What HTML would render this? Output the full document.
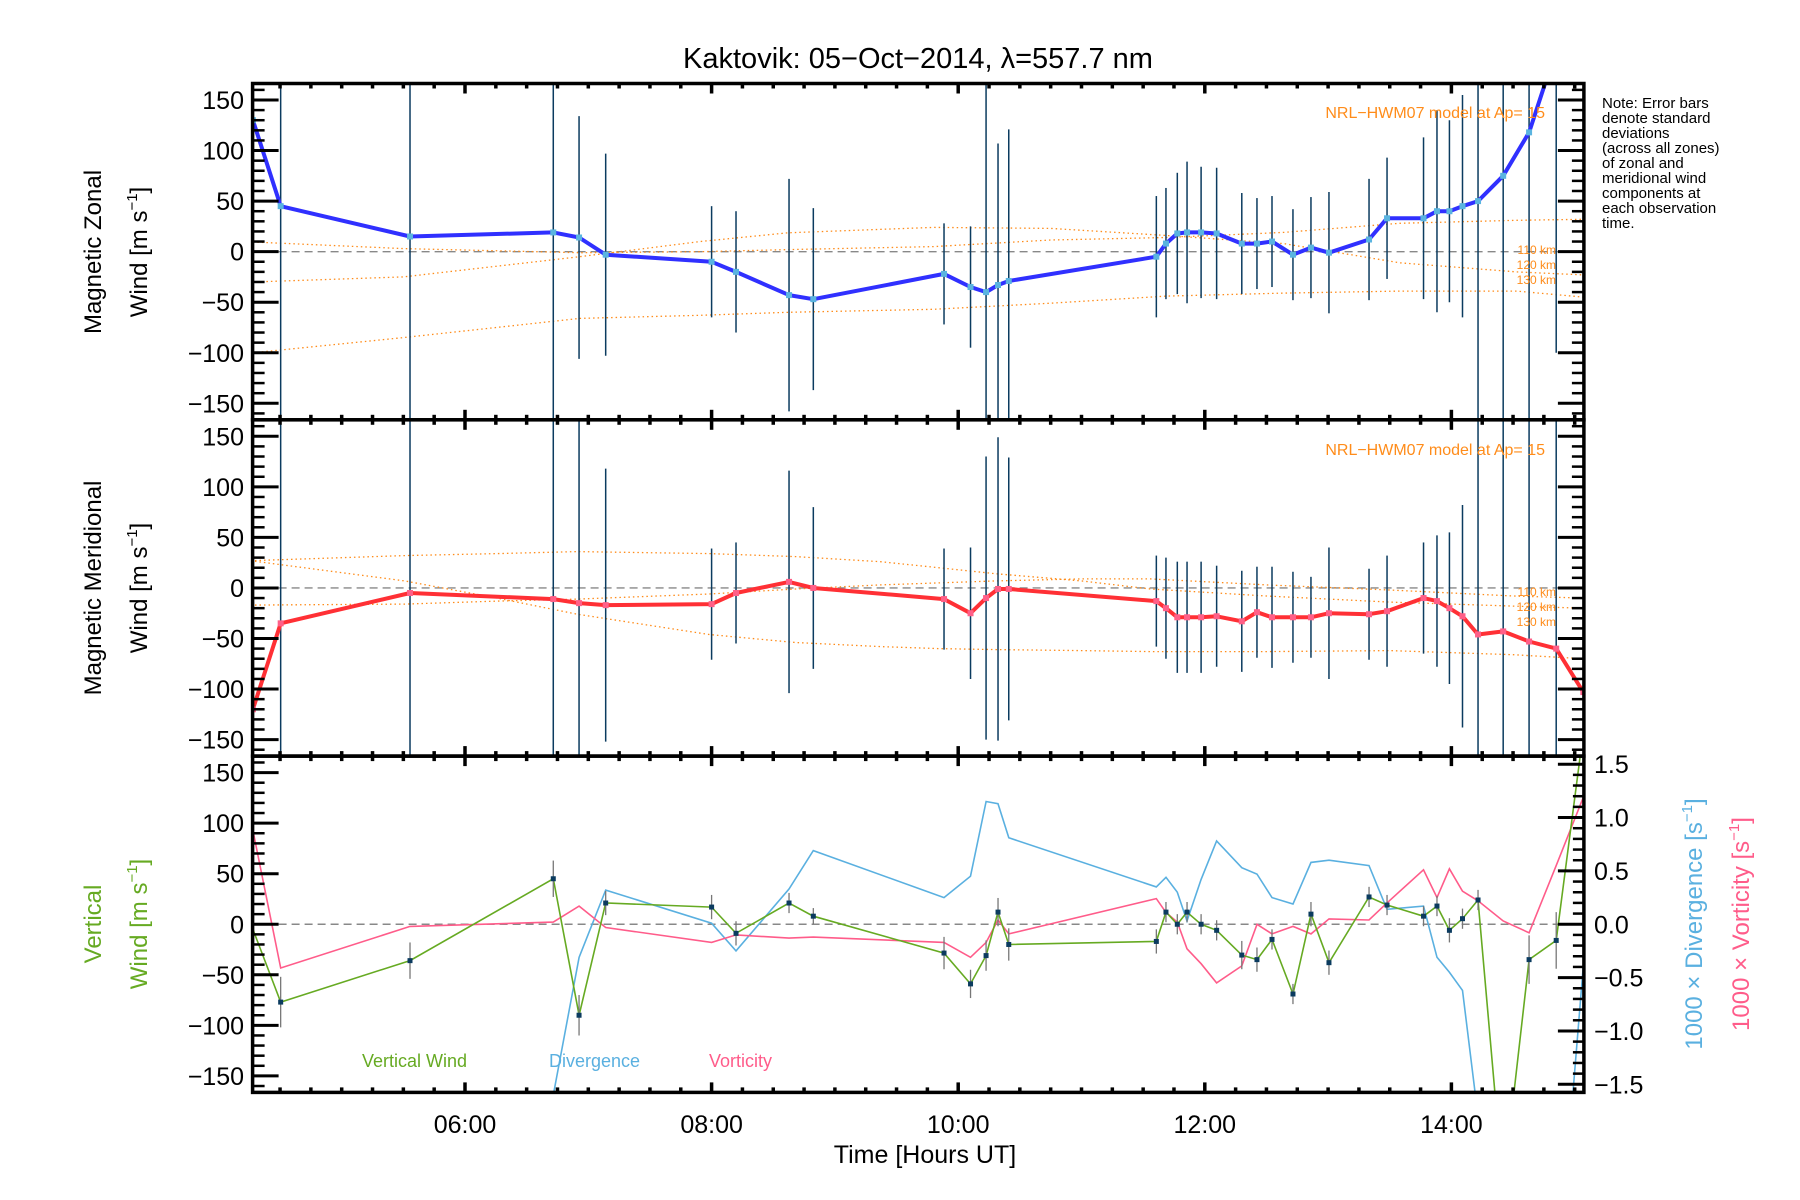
<!DOCTYPE html>
<html><head><meta charset="utf-8"><style>
html,body{margin:0;padding:0;background:#fff;overflow:hidden;width:1800px;height:1200px;}
svg{display:block;font-family:"Liberation Sans",sans-serif;}
</style></head><body>
<svg id="chart" width="1800" height="1200" viewBox="0 0 1800 1200" xmlns="http://www.w3.org/2000/svg">
<defs>
<clipPath id="c1"><rect x="252.6" y="83.5" width="1331.3" height="336.3"/></clipPath>
<clipPath id="c2"><rect x="252.6" y="419.8" width="1331.3" height="336.3"/></clipPath>
<clipPath id="c3"><rect x="252.6" y="756.1" width="1331.3" height="336.3"/></clipPath>
</defs>
<text x="918" y="68" font-size="29" text-anchor="middle">Kaktovik: 05−Oct−2014, λ=557.7 nm</text>
<g id="grid"></g>
<g id="marks"></g>
<g id="axes"></g>
<text transform="translate(101,252) rotate(-90)" font-size="24" text-anchor="middle">Magnetic Zonal</text>
<text transform="translate(147,252) rotate(-90)" font-size="24" text-anchor="middle">Wind [m s<tspan font-size="15" dy="-10">−1</tspan><tspan dy="10">]</tspan></text>
<text transform="translate(101,588) rotate(-90)" font-size="24" text-anchor="middle">Magnetic Meridional</text>
<text transform="translate(147,588) rotate(-90)" font-size="24" text-anchor="middle">Wind [m s<tspan font-size="15" dy="-10">−1</tspan><tspan dy="10">]</tspan></text>
<text transform="translate(101,924) rotate(-90)" font-size="24" fill="#66aa22" text-anchor="middle">Vertical</text>
<text transform="translate(147,924) rotate(-90)" font-size="24" fill="#66aa22" text-anchor="middle">Wind [m s<tspan font-size="15" dy="-10">−1</tspan><tspan dy="10">]</tspan></text>
<text transform="translate(1702,924) rotate(-90)" font-size="24" fill="#5ab0e0" text-anchor="middle">1000 × Divergence [s<tspan font-size="15" dy="-10">−1</tspan><tspan dy="10">]</tspan></text>
<text transform="translate(1749,924) rotate(-90)" font-size="24" fill="#ff5c8a" text-anchor="middle">1000 × Vorticity [s<tspan font-size="15" dy="-10">−1</tspan><tspan dy="10">]</tspan></text>
<text x="925" y="1163" font-size="25" text-anchor="middle">Time [Hours UT]</text>
<text x="362" y="1067" font-size="18" fill="#66aa22">Vertical Wind</text>
<text x="549" y="1067" font-size="18" fill="#5ab0e0">Divergence</text>
<text x="709" y="1067" font-size="18" fill="#ff5c8a">Vorticity</text>
<text x="1545" y="118" font-size="16" fill="#ff8c1a" text-anchor="end">NRL−HWM07 model at Ap= 15</text>
<text x="1545" y="455" font-size="16" fill="#ff8c1a" text-anchor="end">NRL−HWM07 model at Ap= 15</text>
<g font-size="12" fill="#ff8c1a" text-anchor="end">
<text x="1556" y="254">110 km</text><text x="1556" y="269">120 km</text><text x="1556" y="284">130 km</text></g>
<g font-size="12" fill="#ff8c1a" text-anchor="end">
<text x="1556" y="596">110 km</text><text x="1556" y="611">120 km</text><text x="1556" y="626">130 km</text></g>
<g font-size="15" fill="#000">
<text x="1602" y="108">Note: Error bars</text>
<text x="1602" y="123">denote standard</text>
<text x="1602" y="138">deviations</text>
<text x="1602" y="153">(across all zones)</text>
<text x="1602" y="168">of zonal and</text>
<text x="1602" y="183">meridional wind</text>
<text x="1602" y="198">components at</text>
<text x="1602" y="213">each observation</text>
<text x="1602" y="228">time.</text>
</g>
</svg>
<script>
const times = [4.28,4.505,5.554,6.716,6.925,7.141,8.0,8.198,8.628,8.825,9.885,10.1,10.226,10.323,10.41,11.607,11.685,11.777,11.856,11.97,12.096,12.3,12.423,12.545,12.715,12.861,13.007,13.332,13.478,13.774,13.883,13.984,14.09,14.216,14.42,14.63,14.85,15.07];
const zonal = [130,45,15,19,14,-3,-10,-20,-43,-47,-22,-35,-40,-33,-29,-5,8,18,19,19,18,8,8,10,-3,4,-1,12,33,33,40,40,45,50,75,118,200,260];
const zonalErr = [0,300,300,300,120,100,55,60,115,90,50,60,300,140,150,60,55,60,70,65,65,50,45,45,45,50,60,60,60,80,100,90,110,300,300,300,300,0];
const meridional = [-120,-35,-5,-11,-15,-17,-16,-5,6,0,-11,-25,-10,-1,-1,-13,-20,-29,-29,-29,-28,-33,-24,-29,-29,-29,-25,-26,-23,-10,-13,-20,-28,-46,-43,-53,-60,-103];
const meridErr = [0,300,300,300,300,135,55,50,110,80,50,65,140,150,130,45,50,55,55,55,50,50,45,50,45,40,65,45,55,55,65,75,110,300,300,300,300,0];
const vertical = [-5,-77,-36,45,-90,21,17,-9,21,8,-28.5,-59,-31,12,-20,-17,12,0,12,0,-6,-30.5,-35,-15,-69,10,-38,27,19,8,18,-6,5.5,24,-260,-35,-16,190];
const vertErr = [0,25,18,18,20,12,12,12,10,8,16,14,15,14,16,12,10,10,10,10,10,14,12,10,10,12,12,10,10,10,10,12,10,10,0,24,28,0];
const divergence = [-3,-3,-3,-1.6,-0.31,0.32,0.01,-0.25,0.33,0.69,0.25,0.45,1.15,1.13,0.81,0.35,0.44,0.3,0.03,0.42,0.78,0.53,0.47,0.25,0.19,0.58,0.6,0.55,0.14,0.17,-0.31,-0.45,-0.62,-1.8,-3,-3,-3.5,-0.39];
const vorticity = [0.88,-0.41,-0.02,0.02,0.17,-0.03,-0.17,-0.1,-0.13,-0.12,-0.17,-0.31,-0.17,0.04,-0.09,0.24,0.11,0.02,-0.23,-0.37,-0.55,-0.39,0.0,-0.09,-0.02,-0.09,0.05,0.04,0.2,0.51,0.25,0.52,0.31,0.22,0.03,-0.08,0.55,1.19];
const zModelT = [4.28,5.5,6.93,7.91,8.62,9.8,10.75,11.69,12.64,13.58,14.53,15.07];
const zModel110 = [-30,-25,-5,10,18.6,24,23,16,8,-11,-20,-23];
const zModel120 = [9.5,3,-1,0,2,5,11.5,14,19,28,31,32];
const zModel130 = [-100,-85,-66,-63,-60,-57,-51,-44,-41,-39,-39,-45];
const mModelT = [4.26,5.51,6.26,6.91,7.98,8.68,9.37,9.84,10.31,11.0,11.56,12.5,13.5,14.5,15.07];
const mModel110 = [27,32,34,36,34,31,26,20,14,7,-1,-8,-14,-18,-20];
const mModel120 = [27,7,-10,-26,-46,-54,-58,-60,-61,-62,-63,-63,-62,-66,-70];
const mModel130 = [-17,-16,-13,-11,-6,-1,3,5,7,9,9,3,-2,-8,-10];
const xTickHours = [6,8,10,12,14];
const xTickLabels = ["06:00","08:00","10:00","12:00","14:00"];
const yTicks = [-150,-100,-50,0,50,100,150];
const rTicks = [-1.5,-1.0,-0.5,0.0,0.5,1.0,1.5];

const NS="http://www.w3.org/2000/svg";
const L=252.6,R=1583.9,PH=336.3,T0=83.5;
const X=t=>465+(t-6)*123.3;
const Y=(p,v)=>T0+p*PH+PH/2-v*1.011;
const YR=v=>T0+2*PH+PH/2-v*106.7;
const marks=document.getElementById('marks'),axes=document.getElementById('axes');
function mk(tag,attrs,parent){const e=document.createElementNS(NS,tag);for(const k in attrs)e.setAttribute(k,attrs[k]);parent.appendChild(e);return e;}
function poly(xs,ys,style,parent){return mk('polyline',Object.assign({points:xs.map((x,i)=>x.toFixed(1)+','+ys[i].toFixed(1)).join(' '),fill:'none'},style),parent);}

for(let p=0;p<3;p++){
  const g=mk('g',{'clip-path':'url(#c'+(p+1)+')'},marks);
  
  
  const z=mk('line',{x1:L,x2:R,y1:Y(p,0),y2:Y(p,0),stroke:'#888','stroke-width':1.4,'stroke-dasharray':'8,5'},g);
  
  
  if(p<2){
    const MT=p==0?zModelT:mModelT;
    const mods=p==0?[zModel110,zModel120,zModel130]:[mModel110,mModel120,mModel130];
    mods.forEach((m,k)=>{const e=poly(MT.map(X),m.map(v=>Y(p,v)),{stroke:'#ff8c1a','stroke-width':1.3,'stroke-dasharray':'1.5,3'},g);
      
      });
    const vals=p==0?zonal:meridional, errs=p==0?zonalErr:meridErr;
    times.forEach((t,i)=>{ if(errs[i]>0){const e=mk('line',{x1:X(t),x2:X(t),y1:Y(p,vals[i]-errs[i]),y2:Y(p,vals[i]+errs[i]),stroke:'#0b3b5f','stroke-width':1.5},g);
      
      }});
    const ln=poly(times.map(X),vals.map(v=>Y(p,v)),{stroke:p==0?'#3030ff':'#ff3035','stroke-width':4,'stroke-linejoin':'round'},g);
    
    
    times.forEach((t,i)=>{const c=mk('rect',{x:X(t)-3,y:Y(p,vals[i])-3,width:6,height:6,fill:p==0?'#5ab4e0':'#ff6088'},g);
      
      });
  } else {
    const dl=poly(times.map(X),divergence.map(YR),{stroke:'#5ab0e0','stroke-width':1.6},g);
    
    
    const vl=poly(times.map(X),vorticity.map(YR),{stroke:'#ff5c8a','stroke-width':1.6},g);
    
    
    const gl=poly(times.map(X),vertical.map(v=>Y(2,v)),{stroke:'#66aa22','stroke-width':1.6},g);
    
    
    times.forEach((t,i)=>{ if(vertErr[i]>0){
      const e=mk('line',{x1:X(t),x2:X(t),y1:Y(2,vertical[i]-vertErr[i]),y2:Y(2,vertical[i]+vertErr[i]),stroke:'#777','stroke-width':1.3},g);
      
      
      const c=mk('rect',{x:X(t)-2.5,y:Y(2,vertical[i])-2.5,width:5,height:5,fill:'#0b3b5f'},g);
      
      }});
  }
}

for(let p=0;p<3;p++){
  const top=T0+p*PH,bot=top+PH;
  const ax=mk('g',{stroke:'#000'},axes);
  
  
  mk('rect',{x:L,y:top,width:R-L,height:PH,fill:'none','stroke-width':3.5},ax);
  for(let v=-160;v<=160;v+=10){const y=Y(p,v);const maj=v%50==0;
    mk('line',{x1:L,x2:L+(maj?26:12),y1:y,y2:y,'stroke-width':maj?3:2.5},ax);
    if(p<2) mk('line',{x1:R,x2:R-(maj?26:12),y1:y,y2:y,'stroke-width':maj?3:2.5},ax);}
  if(p==2){for(let k=-15;k<=15;k++){const v=k/10,y=YR(v),maj=k%5==0;
    mk('line',{x1:R,x2:R-(maj?26:11),y1:y,y2:y,'stroke-width':maj?3:2.5},ax);}}
  for(let t=4.5;t<=15.01;t+=0.25){const x=X(t),maj=Math.abs(t-Math.round(t))<0.01&&Math.round(t)%2==0;
    mk('line',{x1:x,x2:x,y1:top,y2:top+(maj?10:5),'stroke-width':3.5},ax);
    mk('line',{x1:x,x2:x,y1:bot,y2:bot-(maj?10:5),'stroke-width':3.5},ax);}
  yTicks.forEach(v=>{const tx=mk('text',{x:244,y:Y(p,v)+9,'font-size':25,'text-anchor':'end',stroke:'none'},axes);
    tx.textContent=(v<0?'−':'')+Math.abs(v);
    
    });
}
rTicks.forEach(v=>{const tx=mk('text',{x:1594,y:YR(v)+9,'font-size':25},axes);
  tx.textContent=(v<0?'−':'')+Math.abs(v).toFixed(1);
  
  });
xTickHours.forEach((h,i)=>{const tx=mk('text',{x:X(h),y:1133,'font-size':25,'text-anchor':'middle'},axes);
  tx.textContent=xTickLabels[i];
  
  });
</script>
</body></html>
